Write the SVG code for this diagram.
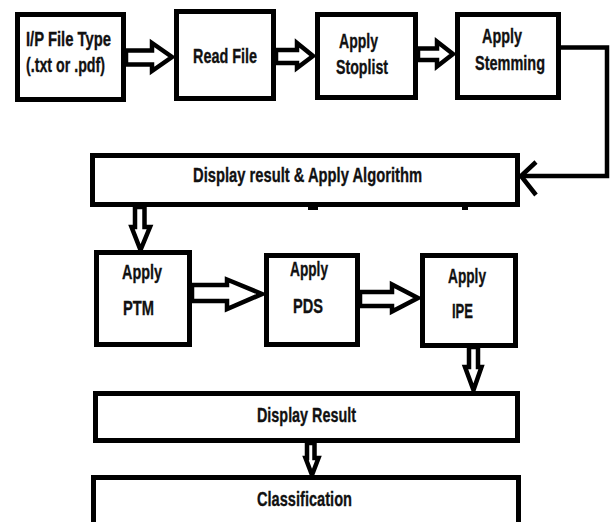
<svg xmlns="http://www.w3.org/2000/svg" width="612" height="522" viewBox="0 0 612 522">
<style>
.box{fill:#fff;stroke:#000;stroke-width:5}
.arr{fill:#fff;stroke:#000;stroke-width:4.5;stroke-linejoin:miter}
.line{fill:none;stroke:#000;stroke-width:4.5}
text{font-family:"Liberation Sans",Arial,sans-serif;font-weight:bold;font-size:21px;fill:#111;stroke:#111;stroke-width:0.35;text-anchor:start}
</style>
<rect width="612" height="522" fill="#fff"/>
<g id="connectors">
<polygon class="arr" points="126,50.5 152,50.5 152,43 172,57 152,71 152,64.5 126,64.5"/>
<polygon class="arr" points="276,50 297,50 297,43 313,56 297,68 297,63 276,63"/>
<polygon class="arr" points="418,48.5 437,48.5 437,41.5 453,54 437,66.5 437,60 418,60"/>
<polyline class="line" points="561,47.5 607,47.5 607,176 522,176"/>
<polyline class="line" points="536,162 521,176 536,195"/>
<polygon class="arr" points="192,285 227,285 227,279.5 262,294 227,309 227,301 192,301"/>
<polygon class="arr" points="360,292 392,292 392,284.5 418,298 392,311.5 392,306 360,306"/>
<polygon class="arr" points="135,207 135,227 131.5,227 140.5,250 150,227 144.5,227 144.5,207"/>
<polygon class="arr" points="469,347 469,367 465,367 473.5,390 481.5,367 478,367 478,347"/>
<polygon class="arr" points="307,443 307,458 305.5,458 312,475 318.5,458 314.5,458 314.5,443"/>
</g>
<g id="n1"><rect class="box" x="17.5" y="14.5" width="106" height="85"/>
<text x="26" y="46" textLength="85" lengthAdjust="spacingAndGlyphs">I/P File Type</text>
<text x="26" y="72" textLength="79" lengthAdjust="spacingAndGlyphs">(.txt or .pdf)</text></g>
<g id="n2"><rect class="box" x="176.5" y="11.5" width="97" height="87"/>
<text x="193" y="63" textLength="64" lengthAdjust="spacingAndGlyphs">Read File</text></g>
<g id="n3"><rect class="box" x="317.5" y="14.5" width="98" height="83"/>
<text x="339" y="48" textLength="39" lengthAdjust="spacingAndGlyphs">Apply</text>
<text x="336" y="74" textLength="52" lengthAdjust="spacingAndGlyphs">Stoplist</text></g>
<g id="n4"><rect class="box" x="457.5" y="14.5" width="101" height="83"/>
<text x="482" y="43" textLength="40" lengthAdjust="spacingAndGlyphs">Apply</text>
<text x="475" y="70" textLength="70" lengthAdjust="spacingAndGlyphs">Stemming</text></g>
<g id="n5"><rect class="box" x="92.5" y="155.5" width="425" height="49"/>
<text x="193" y="182" textLength="229" lengthAdjust="spacingAndGlyphs">Display result &amp; Apply Algorithm</text>
<rect x="308" y="206" width="10" height="4" fill="#000"/>
<rect x="462" y="206" width="6" height="4" fill="#000"/></g>
<g id="n6"><rect class="box" x="96.5" y="252.5" width="93" height="92"/>
<text x="122" y="279" textLength="40" lengthAdjust="spacingAndGlyphs">Apply</text>
<text x="123" y="315" textLength="31" lengthAdjust="spacingAndGlyphs">PTM</text></g>
<g id="n7"><rect class="box" x="266.5" y="255.5" width="91" height="89"/>
<text x="290" y="276" textLength="38" lengthAdjust="spacingAndGlyphs">Apply</text>
<text x="293" y="313" textLength="30" lengthAdjust="spacingAndGlyphs">PDS</text></g>
<g id="n8"><rect class="box" x="422.5" y="255.5" width="93" height="90"/>
<text x="448" y="283" textLength="38" lengthAdjust="spacingAndGlyphs">Apply</text>
<text x="452" y="318" textLength="21" lengthAdjust="spacingAndGlyphs">IPE</text></g>
<g id="n9"><rect class="box" x="95.5" y="393.5" width="422" height="47"/>
<text x="257" y="422" textLength="99" lengthAdjust="spacingAndGlyphs">Display Result</text></g>
<g id="n10"><rect class="box" x="93.5" y="477.5" width="425" height="48"/>
<text x="257" y="506" textLength="95" lengthAdjust="spacingAndGlyphs">Classification</text></g>
</svg>
